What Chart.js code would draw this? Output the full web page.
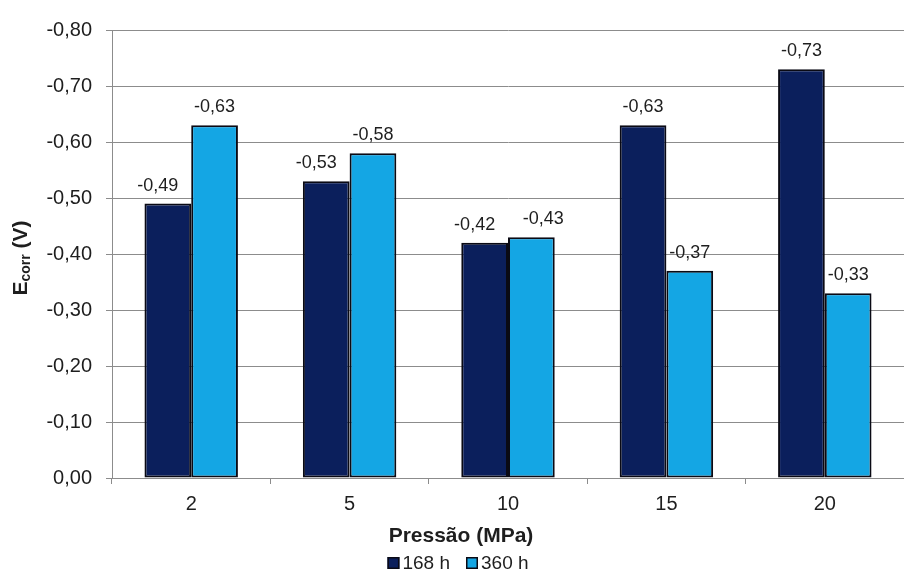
<!DOCTYPE html>
<html>
<head>
<meta charset="utf-8">
<script src="https://cdn.jsdelivr.net/npm/chart.js@4"></script>
<style>
  html, body { margin: 0; padding: 0; background: #ffffff; }
  #wrap { width: 904px; height: 574px; }
</style>
</head>
<body>
<div id="wrap"><canvas id="c" width="904" height="574"></canvas></div>
<script>
// Corrosion potential by pressure, two exposure times
const pressures = ['2', '5', '10', '15', '20'];
const ecorr168h = [-0.49, -0.53, -0.42, -0.63, -0.73];
const ecorr360h = [-0.63, -0.58, -0.43, -0.37, -0.33];
const seriesNames = ['168 h', '360 h'];
const xAxisTitle = 'Pressão (MPa)';
const yAxisTitle = ['E', 'corr', ' (V)'];

const FONT = '"Liberation Sans", Arial, sans-serif';
const TEXT = '#1e1e1e';
const GRID = '#8c8c8c';
const DARK = '#0b1f5c';
const LIGHT = '#14a6e4';

const fmt = v => Math.abs(v) < 1e-9 ? '0,00' : v.toFixed(2).replace('.', ',');

// Value labels above each bar, nudged apart when they would collide
const valueLabels = {
  id: 'valueLabels',
  afterDatasetsDraw(chart) {
    const ctx = chart.ctx;
    const m0 = chart.getDatasetMeta(0);
    const m1 = chart.getDatasetMeta(1);
    const d0 = chart.data.datasets[0].data;
    const d1 = chart.data.datasets[1].data;
    ctx.save();
    ctx.font = '18px ' + FONT;
    ctx.fillStyle = TEXT;
    ctx.textAlign = 'center';
    ctx.textBaseline = 'middle';
    m0.data.forEach((b0, i) => {
      const b1 = m1.data[i];
      let x0 = b0.x, x1 = b1.x;
      const y0 = b0.y - 18, y1 = b1.y - 18;
      if (Math.abs(d1[i]) > Math.abs(d0[i])) x0 -= 10;
      if (Math.abs(y0 - y1) < 22) x1 += 12;
      ctx.fillText(fmt(d0[i]), x0, y0);
      ctx.fillText(fmt(d1[i]), x1, y1);
    });
    ctx.restore();
  }
};

// Axis titles and the legend row under the chart
const decorations = {
  id: 'decorations',
  afterDraw(chart) {
    const ctx = chart.ctx;
    ctx.save();
    ctx.fillStyle = TEXT;

    // x axis title
    ctx.font = 'bold 21px ' + FONT;
    ctx.textAlign = 'center';
    ctx.textBaseline = 'middle';
    ctx.fillText(xAxisTitle, 461, 536);

    // y axis title with subscript, rotated
    ctx.save();
    ctx.translate(20, 258);
    ctx.rotate(-Math.PI / 2);
    const mainFont = 'bold 21px ' + FONT;
    const subFont = 'bold 14px ' + FONT;
    ctx.font = mainFont; const wE = ctx.measureText(yAxisTitle[0]).width;
    ctx.font = subFont; const wS = ctx.measureText(yAxisTitle[1]).width;
    ctx.font = mainFont; const wV = ctx.measureText(yAxisTitle[2]).width;
    let x = -(wE + wS + wV) / 2;
    ctx.textAlign = 'left';
    ctx.textBaseline = 'alphabetic';
    ctx.font = mainFont; ctx.fillText(yAxisTitle[0], x, 7); x += wE;
    ctx.font = subFont; ctx.fillText(yAxisTitle[1], x, 10); x += wS;
    ctx.font = mainFont; ctx.fillText(yAxisTitle[2], x, 7);
    ctx.restore();

    // legend
    ctx.font = '19px ' + FONT;
    ctx.textAlign = 'left';
    ctx.textBaseline = 'middle';
    const box = 12, gap = 3, itemGap = 16, ly = 563;
    const widths = seriesNames.map(n => ctx.measureText(n).width);
    const total = widths.reduce((a, w) => a + box + gap + w, 0) + itemGap * (seriesNames.length - 1);
    let lx = 458 - total / 2;
    chart.data.datasets.forEach((ds, i) => {
      ctx.fillStyle = ds.backgroundColor;
      ctx.fillRect(lx, ly - box / 2, box, box);
      ctx.strokeStyle = '#0a0a14';
      ctx.lineWidth = 1.5;
      ctx.strokeRect(lx + 0.75, ly - box / 2 + 0.75, box - 1.5, box - 1.5);
      ctx.fillStyle = TEXT;
      ctx.fillText(seriesNames[i], lx + box + gap, ly + 1);
      lx += box + gap + widths[i] + itemGap;
    });
    ctx.restore();
  }
};

new Chart(document.getElementById('c'), {
  type: 'bar',
  data: {
    labels: pressures,
    datasets: [
      { label: seriesNames[0], data: ecorr168h, backgroundColor: DARK },
      { label: seriesNames[1], data: ecorr360h, backgroundColor: LIGHT }
    ].map(ds => Object.assign(ds, {
      borderColor: '#0a0a14',
      borderWidth: 2,
      borderSkipped: false,
      categoryPercentage: 0.59,
      barPercentage: 1.0
    }))
  },
  options: {
    responsive: false,
    animation: false,
    layout: { padding: { top: 30, right: 0, bottom: 0, left: 0 } },
    plugins: { legend: { display: false }, tooltip: { enabled: false } },
    scales: {
      x: {
        grid: { drawOnChartArea: false, drawTicks: true, tickLength: 6, color: GRID, offset: true },
        border: { color: GRID, width: 1 },
        ticks: { font: { family: FONT, size: 20 }, color: TEXT, padding: 8 },
        afterFit(s) { s.height = 96; }
      },
      y: {
        reverse: true,
        min: -0.8,
        max: 0,
        ticks: {
          stepSize: 0.1,
          callback: v => fmt(v),
          font: { family: FONT, size: 20 },
          color: TEXT,
          padding: 14
        },
        grid: { color: GRID, tickLength: 6 },
        border: { color: GRID, width: 1 },
        afterFit(s) { s.width = 112; }
      }
    }
  },
  plugins: [valueLabels, decorations]
});
</script>
</body>
</html>
